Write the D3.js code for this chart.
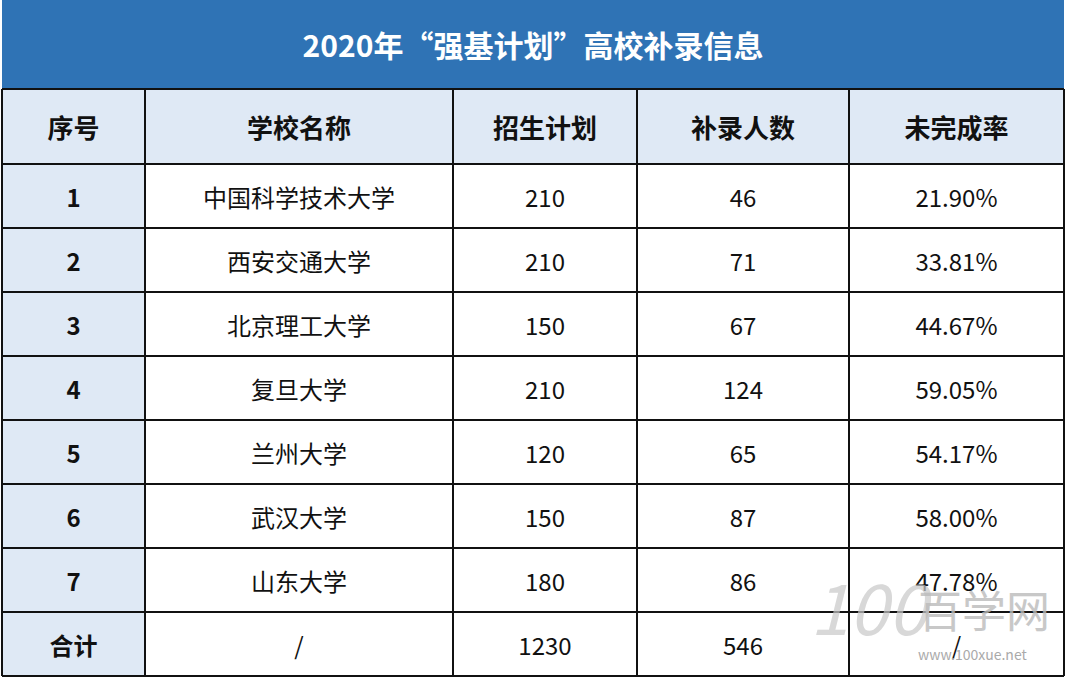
<!DOCTYPE html>
<html><head><meta charset="utf-8">
<script src="https://cdn.jsdelivr.net/npm/d3@7"></script>
<style>body{margin:0;background:#fff;}svg{display:block;font-family:"Noto Sans CJK SC","Noto Sans",sans-serif;}</style>
</head><body>
<svg id="chart" width="1066" height="678"></svg>
<script>
var title = "2020年“强基计划”高校补录信息";
var headers = ["序号", "学校名称", "招生计划", "补录人数", "未完成率"];
var ids = ["1", "2", "3", "4", "5", "6", "7", "合计"];
var schools = ["中国科学技术大学", "西安交通大学", "北京理工大学", "复旦大学", "兰州大学", "武汉大学", "山东大学", "/"];
var plans = ["210", "210", "150", "210", "120", "150", "180", "1230"];
var added = ["46", "71", "67", "124", "65", "87", "86", "546"];
var rates = ["21.90%", "33.81%", "44.67%", "59.05%", "54.17%", "58.00%", "47.78%", "/"];

var svg = d3.select("#chart");
var colEdges = [2, 145, 453, 637, 849, 1064];
var top0 = 89, headH = 75, rowH = 64;

// title bar
svg.append("rect").attr("x", 2).attr("y", 0).attr("width", 1062).attr("height", 88).attr("fill", "#2f73b5");
svg.append("text").attr("x", 533).attr("y", 44).attr("text-anchor", "middle").attr("dominant-baseline", "central")
  .attr("fill", "#fff").attr("font-size", 30).attr("font-weight", "bold").text(title);

var rows = ids.map((d, i) => [d, schools[i], plans[i], added[i], rates[i]]);
var yTop = i => i < 0 ? top0 : top0 + headH + i * rowH;

// header row
headers.forEach((h, c) => {
  svg.append("rect").attr("x", colEdges[c]).attr("y", top0).attr("width", colEdges[c + 1] - colEdges[c]).attr("height", headH).attr("fill", "#dfe9f5");
  svg.append("text").attr("x", (colEdges[c] + colEdges[c + 1]) / 2).attr("y", top0 + headH / 2)
    .attr("text-anchor", "middle").attr("dominant-baseline", "central").attr("font-size", 26).attr("font-weight", "bold").attr("fill", "#111").text(h);
});

rows.forEach((r, i) => {
  var y = yTop(i);
  r.forEach((v, c) => {
    svg.append("rect").attr("x", colEdges[c]).attr("y", y).attr("width", colEdges[c + 1] - colEdges[c]).attr("height", rowH)
      .attr("fill", c === 0 ? "#dfe9f5" : "#fff");
    svg.append("text").attr("x", (colEdges[c] + colEdges[c + 1]) / 2).attr("y", y + rowH / 2)
      .attr("text-anchor", "middle").attr("dominant-baseline", "central")
      .attr("font-size", c === 0 ? 24 : 24).attr("font-weight", c === 0 ? "bold" : "normal").attr("fill", "#111").text(v);
  });
});

// grid lines
var bottom = yTop(rows.length);
colEdges.forEach(x => svg.append("line").attr("x1", x).attr("x2", x).attr("y1", top0).attr("y2", bottom).attr("stroke", "#111").attr("stroke-width", 2));
d3.range(rows.length + 1).map(i => yTop(i - 1)).concat([bottom]).forEach(y =>
  svg.append("line").attr("x1", colEdges[0]).attr("x2", colEdges[5]).attr("y1", y).attr("y2", y).attr("stroke", "#111").attr("stroke-width", 2));

// watermark
svg.append("text").attr("x", 810).attr("y", 635).attr("font-size", 70).attr("font-style", "italic").attr("fill", "#c8c8c8").attr("opacity", 0.7).text("100");
svg.append("text").attr("x", 918).attr("y", 628).attr("font-size", 44).attr("fill", "#bbb").attr("opacity", 0.8).text("百学网");
svg.append("text").attr("x", 918).attr("y", 660).attr("font-size", 14).attr("fill", "#aaa").text("www.100xue.net");
</script>
</body></html>
